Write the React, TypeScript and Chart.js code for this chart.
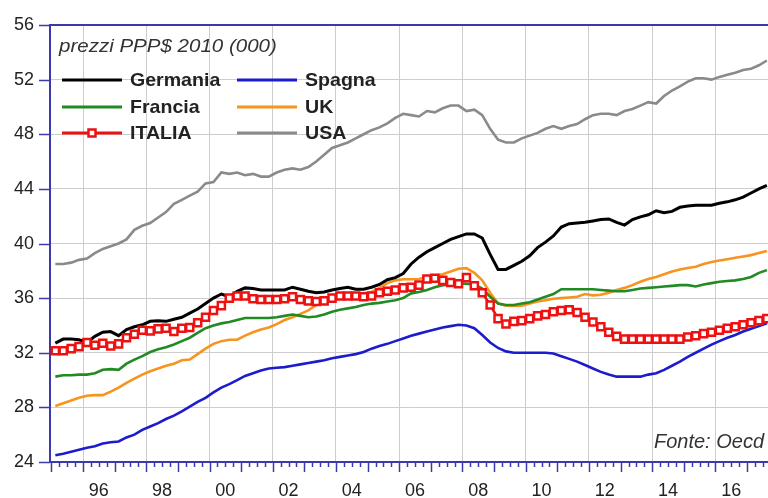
import React, { useEffect, useRef } from 'react';
import { Chart, registerables } from 'chart.js';

Chart.register(...registerables);

// Quarterly data, 1995Q1 .. 2017Q3 (thousand PPP$ 2010)
const START_YEAR = 1995;

const germania = [
  32.7, 33.0, 33.0, 32.95, 32.75, 33.2, 33.5, 33.55, 33.25, 33.7, 33.9, 34.05,
  34.3, 34.35, 34.3, 34.45, 34.6, 34.9, 35.2, 35.6, 36.0, 36.3, 36.1, 36.5,
  36.75, 36.7, 36.6, 36.6, 36.6, 36.6, 36.8, 36.65, 36.5, 36.4, 36.45, 36.6,
  36.7, 36.8, 36.65, 36.65, 36.8, 37.0, 37.35, 37.5, 37.8, 38.5, 39.0, 39.4,
  39.7, 40.0, 40.3, 40.5, 40.7, 40.7, 40.4, 39.2, 38.1, 38.1, 38.4, 38.7,
  39.1, 39.7, 40.1, 40.55, 41.2, 41.45, 41.5, 41.55, 41.65, 41.75, 41.8, 41.55,
  41.35, 41.75, 41.95, 42.1, 42.4, 42.25, 42.35, 42.65, 42.75, 42.8, 42.8, 42.8,
  42.95, 43.05, 43.2, 43.4, 43.7, 44.0, 44.25,
];

const spagna = [
  24.5, 24.6, 24.75, 24.9, 25.05, 25.15, 25.35, 25.45, 25.5, 25.8, 26.0, 26.35,
  26.6, 26.85, 27.15, 27.4, 27.7, 28.05, 28.4, 28.7, 29.1, 29.45, 29.7, 30.0,
  30.3, 30.5, 30.7, 30.85, 30.9, 30.95, 31.05, 31.15, 31.25, 31.35, 31.45, 31.6,
  31.7, 31.8, 31.9, 32.05, 32.3, 32.5, 32.65, 32.85, 33.05, 33.25, 33.4, 33.55,
  33.7, 33.85, 33.95, 34.05, 34.0, 33.8, 33.3, 32.75, 32.35, 32.1, 32.0, 32.0,
  32.0, 32.0, 32.0, 31.95, 31.75, 31.55, 31.35, 31.1, 30.85, 30.6, 30.4, 30.25,
  30.25, 30.25, 30.25, 30.4, 30.5, 30.75, 31.05, 31.35, 31.7, 32.0, 32.3, 32.6,
  32.85, 33.1, 33.3, 33.55, 33.75, 33.95, 34.15,
];

const francia = [
  30.25, 30.35, 30.35, 30.4, 30.4, 30.5, 30.75, 30.8, 30.75, 31.2, 31.5, 31.75,
  32.05, 32.25, 32.4, 32.6, 32.85, 33.1, 33.45, 33.8, 34.0, 34.15, 34.25, 34.4,
  34.55, 34.55, 34.55, 34.55, 34.6, 34.7, 34.8, 34.7, 34.6, 34.65, 34.8, 35.0,
  35.15, 35.25, 35.35, 35.5, 35.6, 35.65, 35.75, 35.85, 36.0, 36.35, 36.45, 36.6,
  36.8, 36.95, 37.0, 37.1, 37.05, 37.0, 36.7, 36.1, 35.6, 35.5, 35.5, 35.6,
  35.7, 35.9, 36.1, 36.3, 36.65, 36.65, 36.65, 36.65, 36.65, 36.6, 36.55, 36.5,
  36.5, 36.6, 36.7, 36.75, 36.8, 36.85, 36.9, 36.95, 36.95, 36.85, 37.0, 37.1,
  37.2, 37.25, 37.3, 37.4, 37.55, 37.85, 38.05,
];

const uk = [
  28.1, 28.3, 28.5, 28.7, 28.85, 28.9, 28.9, 29.15, 29.45, 29.8, 30.1, 30.4,
  30.65, 30.85, 31.05, 31.2, 31.45, 31.5, 31.9, 32.3, 32.65, 32.85, 32.95, 32.95,
  33.25, 33.5, 33.7, 33.85, 34.1, 34.4, 34.6, 34.85, 35.1, 35.5, 35.85, 36.05,
  36.15, 36.2, 36.3, 36.35, 36.45, 36.75, 37.1, 37.3, 37.38, 37.38, 37.4, 37.55,
  37.65, 37.75, 37.95, 38.15, 38.2, 37.85, 37.3, 36.4, 35.6, 35.45, 35.42, 35.45,
  35.6, 35.75, 35.85, 35.95, 36.0, 36.05, 36.1, 36.3, 36.2, 36.25, 36.4, 36.6,
  36.75, 36.95, 37.2, 37.4, 37.55, 37.75, 37.95, 38.1, 38.2, 38.3, 38.5, 38.65,
  38.75, 38.85, 38.95, 39.05, 39.15, 39.3, 39.45,
];

const italia = [
  32.15, 32.15, 32.3, 32.45, 32.75, 32.55, 32.7, 32.5, 32.65, 33.1, 33.35, 33.65,
  33.6, 33.75, 33.8, 33.55, 33.8, 33.85, 34.2, 34.6, 35.1, 35.45, 36.0, 36.15,
  36.15, 35.95, 35.9, 35.9, 35.9, 35.95, 36.1, 35.9, 35.8, 35.75, 35.8, 36.0,
  36.15, 36.15, 36.15, 36.1, 36.15, 36.4, 36.5, 36.6, 36.75, 36.8, 36.95, 37.4,
  37.45, 37.3, 37.15, 37.05, 37.5, 36.9, 36.4, 35.5, 34.5, 34.1, 34.3, 34.35,
  34.5, 34.7, 34.8, 35.0, 35.1, 35.15, 34.95, 34.6, 34.25, 33.9, 33.5, 33.2,
  33.0, 33.0, 33.0, 33.0, 33.0, 33.0, 33.0, 33.0, 33.15, 33.25, 33.4, 33.5,
  33.65, 33.8, 33.9, 34.05, 34.2, 34.35, 34.5,
];

const usa = [
  38.5, 38.5, 38.6, 38.8, 38.9, 39.3, 39.6, 39.8, 40.0, 40.3, 41.0, 41.3,
  41.5, 41.9, 42.3, 42.9, 43.2, 43.5, 43.8, 44.4, 44.5, 45.2, 45.1, 45.2,
  45.0, 45.1, 44.9, 44.9, 45.2, 45.4, 45.5, 45.4, 45.6, 46.0, 46.5, 47.0,
  47.2, 47.4, 47.7, 48.0, 48.3, 48.5, 48.8, 49.2, 49.5, 49.4, 49.3, 49.7,
  49.6, 49.9, 50.1, 50.1, 49.7, 49.8, 49.4, 48.4, 47.6, 47.4, 47.4, 47.7,
  47.9, 48.1, 48.4, 48.6, 48.4, 48.6, 48.75, 49.1, 49.4, 49.5, 49.5, 49.4,
  49.7, 49.85, 50.1, 50.35, 50.25, 50.8, 51.2, 51.5, 51.85, 52.1, 52.1, 52.0,
  52.2, 52.35, 52.5, 52.7, 52.8, 53.05, 53.4,
];

const yTicks = [24, 28, 32, 36, 40, 44, 48, 52, 56];
const xLabelYears = [1996, 1998, 2000, 2002, 2004, 2006, 2008, 2010, 2012, 2014, 2016];
const xTickLabels = ['96', '98', '00', '02', '04', '06', '08', '10', '12', '14', '16'];

const titleText = 'prezzi PPP$ 2010 (000)';
const sourceText = 'Fonte: Oecd';

const AXIS_BLUE = '#3a3aae';
const GRID = '#cdcdcd';
const FONT = '"Liberation Sans", Arial, sans-serif';

const C_GER = '#000000';
const C_SPA = '#1c1ccc';
const C_FRA = '#228a22';
const C_UK = '#f7941e';
const C_ITA = '#ee1111';
const C_USA = '#8a8a8a';

const CANVAS_W = 776;
const CANVAS_H = 498;

const toPoints = (arr: number[]) =>
  arr.map((v, i) => ({ x: START_YEAR + i / 4 + 0.125, y: v }));

const decorPlugin = {
  id: 'decor',
  afterDraw(chart: any) {
    const ctx = chart.ctx as CanvasRenderingContext2D;
    const { left, right, top, bottom } = chart.chartArea;
    const xs = chart.scales.x;
    const ys = chart.scales.y;
    ctx.save();

    // top border
    ctx.strokeStyle = AXIS_BLUE;
    ctx.lineWidth = 2;
    ctx.beginPath();
    ctx.moveTo(left, top);
    ctx.lineTo(right + 2, top);
    ctx.stroke();

    // y ticks and labels
    ctx.lineWidth = 1.5;
    ctx.fillStyle = '#222';
    ctx.font = `18px ${FONT}`;
    ctx.textAlign = 'right';
    ctx.textBaseline = 'middle';
    yTicks.forEach((v) => {
      const py = Math.round(ys.getPixelForValue(v)) + 0.5;
      ctx.beginPath();
      ctx.moveTo(left - 11, py);
      ctx.lineTo(left, py);
      ctx.stroke();
      ctx.fillText(String(v), left - 16, py);
    });

    // x ticks: year (long) and quarter (short)
    ctx.lineWidth = 1.5;
    for (let yr = 1995; yr <= 2018; yr++) {
      for (let q = 0; q < 4; q++) {
        const px = Math.round(xs.getPixelForValue(yr + q / 4)) + 0.5;
        if (px < left - 1 || px > right + 1) continue;
        ctx.beginPath();
        ctx.moveTo(px, bottom);
        ctx.lineTo(px, bottom + (q === 0 ? 10 : 5));
        ctx.stroke();
      }
    }
    ctx.textAlign = 'center';
    xLabelYears.forEach((yr, i) => {
      const px = xs.getPixelForValue(yr + 0.5);
      ctx.fillText(xTickLabels[i], px, bottom + 29);
    });

    // title
    ctx.fillStyle = '#333';
    ctx.font = `italic 19px ${FONT}`;
    ctx.textAlign = 'left';
    ctx.save();
    ctx.translate(59, 47);
    ctx.scale(1.08, 1);
    ctx.fillText(titleText, 0, 0);
    ctx.restore();

    // legend
    const rows = [80, 107, 133];
    const entries = [
      { label: 'Germania', color: C_GER, col: 0, row: 0, marker: false },
      { label: 'Francia', color: C_FRA, col: 0, row: 1, marker: false },
      { label: 'ITALIA', color: C_ITA, col: 0, row: 2, marker: true },
      { label: 'Spagna', color: C_SPA, col: 1, row: 0, marker: false },
      { label: 'UK', color: C_UK, col: 1, row: 1, marker: false },
      { label: 'USA', color: C_USA, col: 1, row: 2, marker: false },
    ];
    const colX = [62, 237];
    ctx.font = `bold 19px ${FONT}`;
    entries.forEach((e) => {
      const x0 = colX[e.col];
      const y0 = rows[e.row];
      ctx.strokeStyle = e.color;
      ctx.lineWidth = 3;
      ctx.beginPath();
      ctx.moveTo(x0, y0);
      ctx.lineTo(x0 + 60, y0);
      ctx.stroke();
      if (e.marker) {
        ctx.fillStyle = '#fff';
        ctx.strokeStyle = e.color;
        ctx.lineWidth = 2.5;
        ctx.beginPath();
        ctx.rect(x0 + 26.5, y0 - 3.5, 7, 7);
        ctx.fill();
        ctx.stroke();
      }
      ctx.fillStyle = '#222';
      ctx.save();
      ctx.translate(x0 + 68, y0 + 1);
      ctx.scale(1.03, 1);
      ctx.fillText(e.label, 0, 0);
      ctx.restore();
    });

    // source
    ctx.fillStyle = '#333';
    ctx.font = `italic 20px ${FONT}`;
    ctx.textAlign = 'right';
    ctx.fillText(sourceText, 764, 442);

    ctx.restore();
  },
};

export default function App() {
  const ref = useRef<HTMLCanvasElement | null>(null);

  useEffect(() => {
    if (!ref.current) return;
    const line = (label: string, data: number[], color: string, order: number, width = 2.6) => ({
      label,
      data: toPoints(data),
      borderColor: color,
      backgroundColor: color,
      borderWidth: width,
      pointRadius: 0,
      tension: 0,
      order,
    });
    const chart = new Chart(ref.current, {
      type: 'line',
      data: {
        datasets: [
          line('USA', usa, C_USA, 6),
          line('Spagna', spagna, C_SPA, 5),
          line('UK', uk, C_UK, 4),
          line('Francia', francia, C_FRA, 3),
          line('Germania', germania, C_GER, 2, 3),
          {
            label: 'ITALIA',
            data: toPoints(italia),
            borderColor: C_ITA,
            backgroundColor: '#ffffff',
            borderWidth: 2.6,
            pointStyle: 'rect',
            pointRadius: 5,
            pointBorderWidth: 2.5,
            pointBorderColor: C_ITA,
            pointBackgroundColor: '#ffffff',
            tension: 0,
            order: 1,
          },
        ],
      },
      options: {
        responsive: false,
        animation: false,
        devicePixelRatio: 1,
        layout: { padding: { left: 50, top: 25, right: 0, bottom: 36 } },
        plugins: {
          legend: { display: false },
          tooltip: { enabled: false },
        },
        scales: {
          x: {
            type: 'linear',
            min: 1994.956,
            max: 2017.677,
            afterBuildTicks: (scale: any) => {
              scale.ticks = xLabelYears.map((v) => ({ value: v }));
            },
            ticks: { display: false },
            grid: { color: GRID, lineWidth: 1, drawTicks: false },
            border: { display: true, color: AXIS_BLUE, width: 2 },
          },
          y: {
            type: 'linear',
            min: 24,
            max: 56,
            ticks: { display: false, stepSize: 4 },
            grid: { color: GRID, lineWidth: 1, drawTicks: false },
            border: { display: true, color: AXIS_BLUE, width: 2 },
          },
        },
      },
      plugins: [decorPlugin],
    } as any);
    return () => chart.destroy();
  }, []);

  return (
    <div
      style={{
        position: 'fixed',
        left: 0,
        top: 0,
        width: 768,
        height: 498,
        overflow: 'hidden',
        background: '#fff',
      }}
    >
      <canvas ref={ref} width={CANVAS_W} height={CANVAS_H} style={{ display: 'block' }} />
    </div>
  );
}
